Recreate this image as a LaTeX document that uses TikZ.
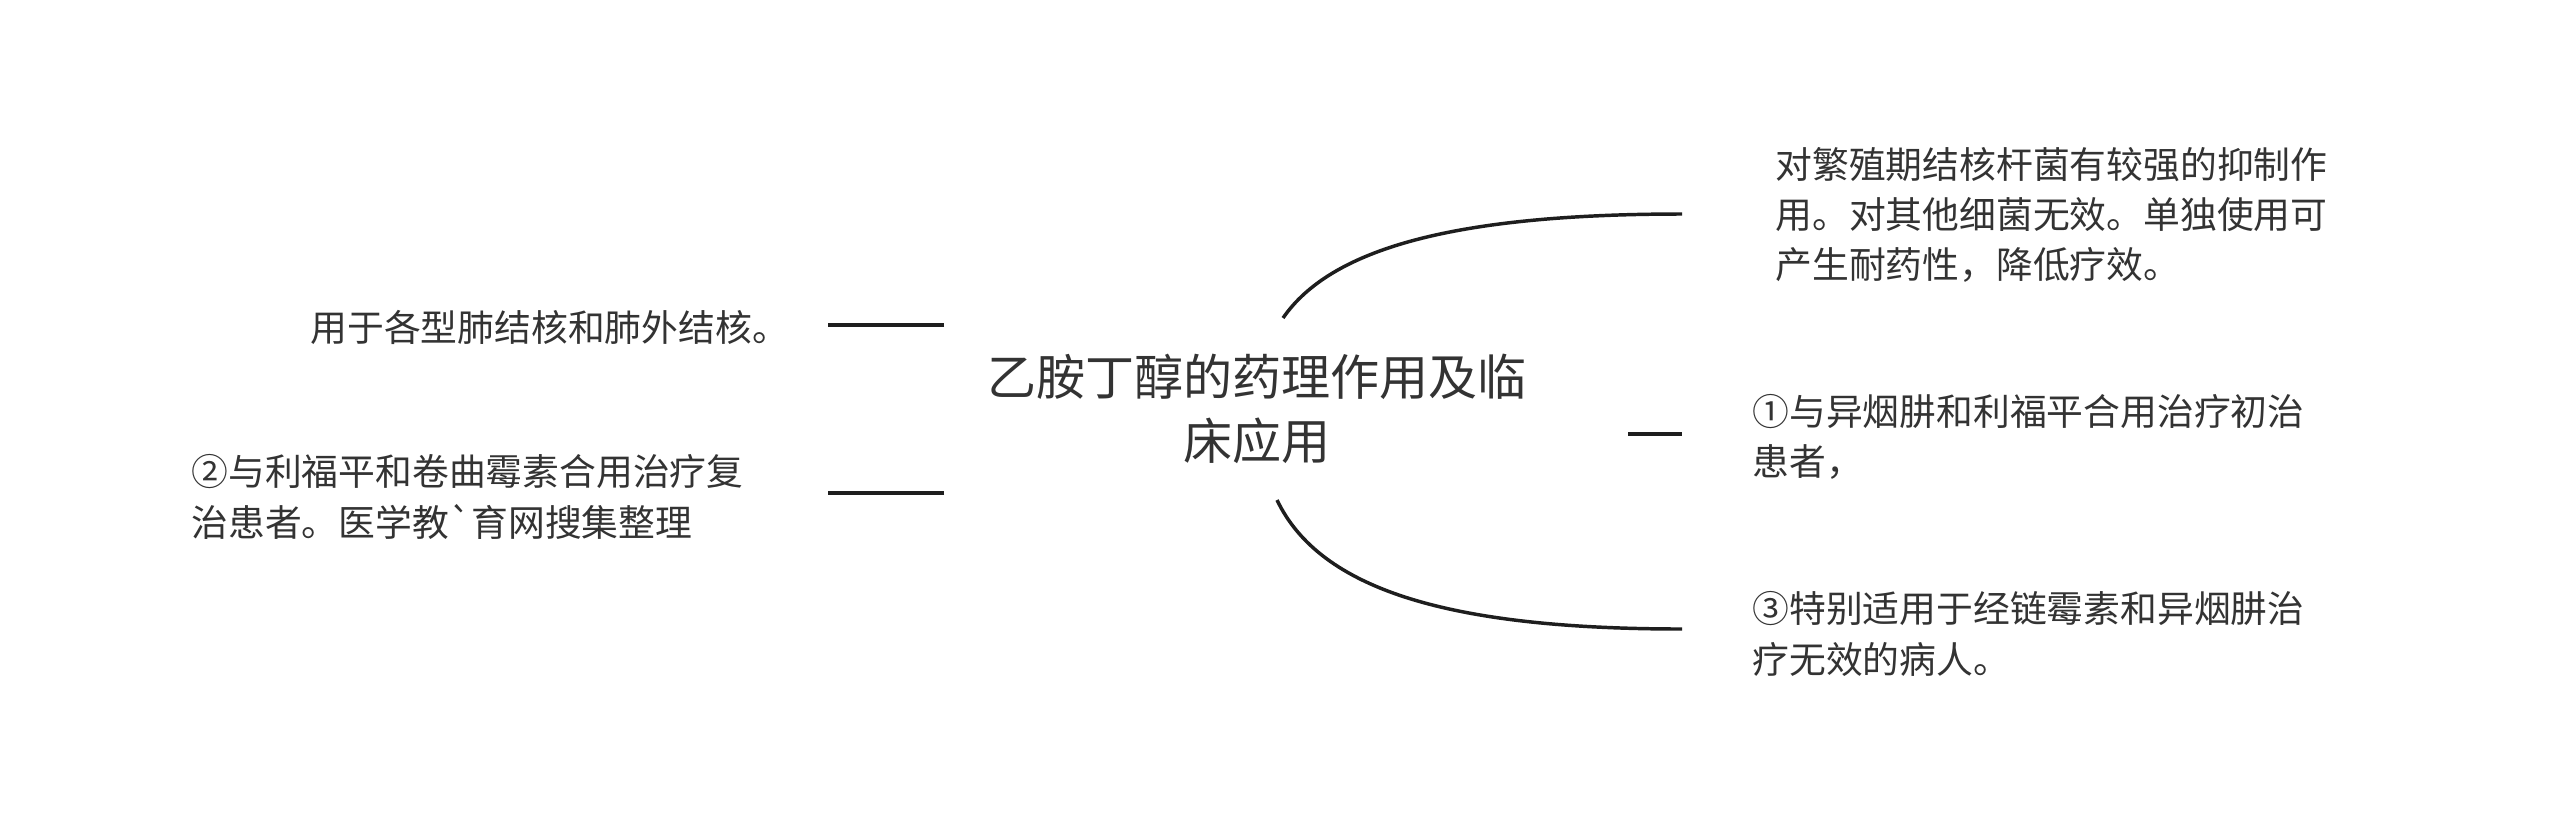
\documentclass[tikz,border=0pt]{standalone}
\usepackage{fontspec}
\newfontfamily\cjk{Noto Sans CJK SC}
\definecolor{txt}{HTML}{333333}
\definecolor{ln}{HTML}{1E1E1E}
\begin{document}
\begin{tikzpicture}[x=0.375pt,y=-0.375pt,
  leaf/.style={font=\cjk\fontsize{13.8}{18.9}\selectfont, text=txt, inner sep=0pt, align=left},
  root/.style={font=\cjk\fontsize{18.4}{24}\selectfont, text=txt, inner sep=0pt, align=center},
  conn/.style={draw=ln, line width=1.3pt}]
\useasboundingbox (0,0) rectangle (2560,819);
\fill[white] (0,0) rectangle (2560,819);
% root
\node[root] (c) at (1257,409) {乙胺丁醇的药理作用及临\\床应用};
% left leaves
\node[leaf, anchor=west] (l1) at (310,327) {用于各型肺结核和肺外结核。};
\node[leaf, anchor=west] (l2) at (191,497) {②与利福平和卷曲霉素合用治疗复\\治患者。医学教\textasciigrave 育网搜集整理};
% right leaves
\node[leaf, anchor=west] (r1) at (1775,215) {对繁殖期结核杆菌有较强的抑制作\\用。对其他细菌无效。单独使用可\\产生耐药性，降低疗效。};
\node[leaf, anchor=west] (r2) at (1752,437) {①与异烟肼和利福平合用治疗初治\\患者，};
\node[leaf, anchor=west] (r3) at (1752,634) {③特别适用于经链霉素和异烟肼治\\疗无效的病人。};
% connector ends
\coordinate (l1e) at (828,325);
\coordinate (l1s) at (944,325);
\coordinate (l2e) at (828,493);
\coordinate (l2s) at (944,493);
\coordinate (r1s) at (1283,318);
\coordinate (r1e) at (1682,214);
\coordinate (r2s) at (1628,434);
\coordinate (r2e) at (1682,434);
\coordinate (r3s) at (1277,500);
\coordinate (r3e) at (1682,629);
\draw[conn] (l1s) -- (l1e);
\draw[conn] (l2s) -- (l2e);
\draw[conn] (r2s) -- (r2e);
\draw[conn] (r1s) .. controls (1330,250) and (1450,214) .. (r1e);
\draw[conn] (r3s) .. controls (1320,590) and (1450,629) .. (r3e);
\end{tikzpicture}
\end{document}
